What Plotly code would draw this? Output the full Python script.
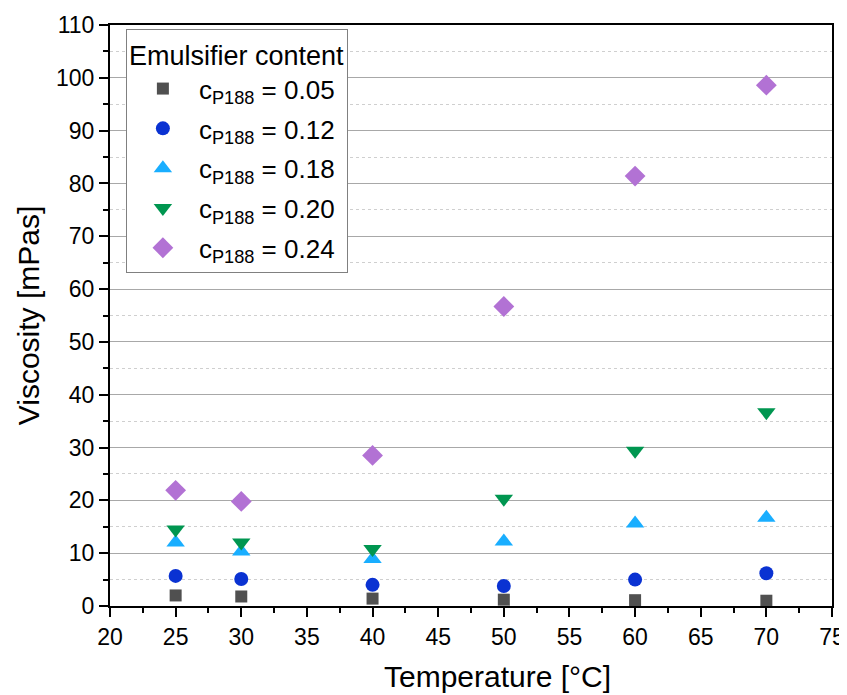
import plotly.graph_objects as go

temperature = [25, 30, 40, 50, 60, 70]
visc_005 = [2.0, 1.8, 1.4, 1.2, 1.1, 1.0]
visc_012 = [5.7, 5.1, 4.0, 3.8, 5.0, 6.2]
visc_018 = [12.0, 10.3, 8.9, 12.2, 15.6, 16.7]
visc_020 = [14.5, 12.0, 10.8, 20.3, 29.4, 36.7]
visc_024 = [21.9, 19.8, 28.5, 56.7, 81.4, 98.6]

labels = ["c<sub>P188</sub> = 0.05", "c<sub>P188</sub> = 0.12", "c<sub>P188</sub> = 0.18",
          "c<sub>P188</sub> = 0.20", "c<sub>P188</sub> = 0.24"]
series = [visc_005, visc_012, visc_018, visc_020, visc_024]
symbols = ["square", "circle", "triangle-up", "triangle-down", "diamond"]
colors = ["#505050", "#0A32D2", "#19AEFF", "#009650", "#B272D4"]
sizes = [12, 14, 16, 16, 16]

x_title = "Temperature [°C]"
y_title = "Viscosity [mPas]"

FONT = "Arial, Liberation Sans, sans-serif"

fig = go.Figure()
for i, (lab, vals, sym, col, sz) in enumerate(zip(labels, series, symbols, colors, sizes)):
    fig.add_trace(go.Scatter(
        x=temperature, y=vals, mode="markers", name=lab, legendgroup=f"g{i}",
        marker=dict(symbol=sym, color=col, size=sz, line=dict(width=0)),
    ))

fig.update_layout(
    width=839, height=687,
    margin=dict(l=102, r=15, t=17, b=89, autoexpand=False),
    paper_bgcolor="white", plot_bgcolor="white",
    font=dict(family=FONT, color="black"),
    showlegend=True,
    legend=dict(
        title=dict(text="Emulsifier content", font=dict(size=27, family=FONT)),
        font=dict(size=26, family=FONT),
        itemwidth=62, tracegroupgap=3,
        x=0.022, y=0.993, xanchor="left", yanchor="top",
        bgcolor="white", bordercolor="#808080", borderwidth=1,
    ),
)

fig.update_xaxes(
    range=[20, 75], dtick=5, tick0=20, automargin=False,
    showline=True, linecolor="black", linewidth=2, mirror=True,
    ticks="outside", ticklen=9, tickwidth=2, tickcolor="black",
    tickfont=dict(size=23, family=FONT),
    showgrid=False, zeroline=False,
    minor=dict(dtick=2.5, ticks="outside", ticklen=5, tickwidth=2, tickcolor="black", showgrid=False),
)
fig.update_yaxes(
    range=[0, 110], dtick=10, tick0=0, automargin=False,
    showline=True, linecolor="black", linewidth=2, mirror=True,
    ticks="outside", ticklen=9, tickwidth=2, tickcolor="black",
    tickfont=dict(size=23, family=FONT),
    showgrid=True, gridcolor="#A8A8A8", gridwidth=1, zeroline=False,
    minor=dict(dtick=5, ticks="outside", ticklen=5, tickwidth=2, tickcolor="black",
               showgrid=True, gridcolor="#CFCFCF", griddash="dot", gridwidth=1),
    title=dict(text=y_title, font=dict(size=30, family=FONT), standoff=8),
)

fig.add_annotation(
    text=x_title, xref="x", yref="paper", x=49.5, y=0,
    xanchor="center", yanchor="top", yshift=-52, showarrow=False,
    font=dict(size=30, family=FONT, color="black"),
)

fig.write_html("out.html")
